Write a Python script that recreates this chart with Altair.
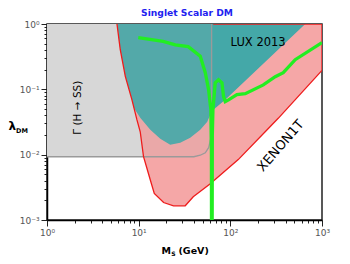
import altair as alt
import pandas as pd

# Gamma(H -> SS) excluded region: lower boundary (M_S [GeV], lambda)
gam_m = [1, 40, 47, 53.3, 58, 61.3, 62.5]
gam_l = [0.0093, 0.0093, 0.0098, 0.0107, 0.0128, 0.018, 0.026]

# XENON1T excluded region: lower boundary
xen_m = [5.8, 6.3, 7.15, 8.45, 9.58, 10.4, 11.3, 12.3, 13.4, 14.8, 18.7, 24, 32.2, 39.4, 60.4, 122, 240, 333, 1000]
xen_l = [1.0, 0.404, 0.158, 0.069, 0.034, 0.0224, 0.0093, 0.0062, 0.0041, 0.00255, 0.00185, 0.00165, 0.00165,
         0.00227, 0.0036, 0.0084, 0.0224, 0.036, 0.195]
xen_top_start = 65  # where the red top edge becomes visible

# LUX 2013 excluded region: lower boundary
lux_m = [5.84, 6.3, 7.15, 8.45, 8.85, 10.4, 13.4, 17.2, 22.1, 28.4, 36.5, 47, 56, 60.4, 65.2, 88, 656]
lux_l = [1.0, 0.404, 0.158, 0.069, 0.0523, 0.0367, 0.024, 0.0175, 0.0142, 0.0152, 0.0181, 0.024, 0.0319,
         0.0408, 0.0488, 0.069, 1.0]

# Relic density curve
relic_m = [9.9, 18.5, 25.1, 34.7, 47, 53.3, 57.9, 61.3, 62.2, 62.4, 63.2, 63.6, 64.6, 68.4, 74.3, 81, 84.3, 88,
           95.6, 118, 145.5, 229, 309, 378, 510, 1000]
relic_l = [0.62, 0.54, 0.48, 0.45, 0.32, 0.18, 0.099, 0.049, 0.01, 0.0001, 0.0001, 0.02, 0.0488, 0.126, 0.140,
           0.126, 0.078, 0.065, 0.069, 0.083, 0.086, 0.117, 0.156, 0.18, 0.284, 0.52]

x_ticks = [k * 10 ** e for e in range(0, 3) for k in range(1, 10)] + [1000]
y_ticks = [round(k * 10.0 ** e, 6) for e in (-3, -2, -1) for k in range(1, 10)] + [1.0]

major_x = "datum.value == 1 || datum.value == 10 || datum.value == 100 || datum.value == 1000"
major_y = "datum.value == 1 || datum.value == 0.1 || datum.value == 0.01 || datum.value == 0.001"

common = dict(grid=False, domainColor="black", domainWidth=1.5, tickColor="#222", tickWidth=1,
              labelColor="#555", labelFont="DejaVu Sans", labelFontSize=9, labelOverlap=False,
              labelFlush=False, title=None)

x_axis = alt.Axis(values=x_ticks,
                  labelExpr="datum.value == 1 ? '10⁰' : datum.value == 10 ? '10¹' : datum.value == 100 ? '10²' : datum.value == 1000 ? '10³' : ''",
                  tickSize={"condition": {"test": major_x, "value": 6}, "value": 3},
                  labelPadding=2, **common)
y_axis = alt.Axis(values=y_ticks,
                  labelExpr="datum.value == 1 ? '10⁰' : datum.value == 0.1 ? '10⁻¹' : datum.value == 0.01 ? '10⁻²' : datum.value == 0.001 ? '10⁻³' : ''",
                  tickSize={"condition": {"test": major_y, "value": 6}, "value": 3},
                  labelPadding=2, **common)

x_scale = alt.Scale(type="log", domain=[1, 1000], nice=False)
y_scale = alt.Scale(type="log", domain=[0.001, 1], nice=False)

X = alt.X("m:Q", scale=x_scale, axis=x_axis)
Y = alt.Y("lam:Q", scale=y_scale, axis=y_axis)

gam_df = pd.DataFrame({"m": gam_m, "lam": gam_l, "top": 1.0})
xen_df = pd.DataFrame({"m": xen_m, "lam": xen_l, "top": 1.0})
lux_df = pd.DataFrame({"m": lux_m, "lam": lux_l, "top": 1.0})

outline_m = [xen_top_start, xen_m[-1]] + xen_m[::-1]
outline_l = [1.0, 1.0] + xen_l[::-1]
out_df = pd.DataFrame({"m": outline_m, "lam": outline_l, "i": range(len(outline_m))})

gout_m = gam_m + [gam_m[-1]]
gout_l = gam_l + [1.0]
gout_df = pd.DataFrame({"m": gout_m, "lam": gout_l, "i": range(len(gout_m))})

relic_df = pd.DataFrame({"m": relic_m, "lam": relic_l, "i": range(len(relic_m))})

gray = alt.Chart(gam_df).mark_area(color="#dfdfdf", orient="vertical").encode(x=X, y=Y, y2=alt.Y2("top:Q"))
pink = alt.Chart(xen_df).mark_area(color="#f5a7a7", orient="vertical").encode(x=X, y=Y, y2=alt.Y2("top:Q"))
teal = alt.Chart(lux_df).mark_area(color="#44a8a8", orient="vertical").encode(x=X, y=Y, y2=alt.Y2("top:Q"))
gray_over = alt.Chart(gam_df).mark_area(color="#b0b0b0", opacity=0.15, orient="vertical").encode(
    x=X, y=Y, y2=alt.Y2("top:Q"))
red_line = alt.Chart(out_df).mark_line(color="#ee1c1c", strokeWidth=1.3, clip=True).encode(
    x=X, y=Y, order="i:Q")
gray_line = alt.Chart(gout_df).mark_line(color="#9a9a9a", strokeWidth=1.3, clip=True).encode(
    x=X, y=Y, order="i:Q")
green = alt.Chart(relic_df).mark_line(color="#22ee22", strokeWidth=3.3, clip=True).encode(
    x=X, y=Y, order="i:Q")

lbl_df = pd.DataFrame({"m": [201, 355, 2.19], "lam": [0.52, 0.0137, 0.0523],
                       "t": ["LUX 2013", "XENON1T", "Γ (H → SS)"]})
lux_txt = alt.Chart(lbl_df.iloc[[0]]).mark_text(font="DejaVu Sans", fontSize=11.5, color="black").encode(
    x=X, y=Y, text="t:N")
xen_txt = alt.Chart(lbl_df.iloc[[1]]).mark_text(font="DejaVu Sans", fontSize=13, color="black", angle=311).encode(
    x=X, y=Y, text="t:N")
gam_txt = alt.Chart(lbl_df.iloc[[2]]).mark_text(font="DejaVu Sans", fontSize=10.5, color="black", angle=270).encode(
    x=X, y=Y, text="t:N")

one = pd.DataFrame({"a": [0]})


def label(text, x, y, size, color="black", align="center", baseline="middle", weight="bold"):
    return alt.Chart(one).mark_text(text=text, font="DejaVu Sans", fontSize=size, fontWeight=weight,
                                    color=color, align=align, baseline=baseline).encode(
        x=alt.value(x), y=alt.value(y))


title = label("Singlet Scalar DM", 140, -15.5, 9.2, color="#1f1ff0", baseline="top")
ylab1 = label("λ", -38.5, 106, 12, align="left", baseline="alphabetic")
ylab2 = label("DM", -31, 108.5, 6.5, align="left", baseline="alphabetic")
xlab1 = label("M", 114.5, 229.5, 9.5, align="left", baseline="alphabetic")
xlab2 = label("S", 124.3, 231.5, 6, align="left", baseline="alphabetic")
xlab3 = label("(GeV)", 131.5, 229.5, 9.5, align="left", baseline="alphabetic")

chart = alt.layer(gray, pink, teal, gray_over, gray_line, red_line, green, lux_txt, xen_txt, gam_txt,
                  title, ylab1, ylab2, xlab1, xlab2, xlab3).properties(
    width=275, height=196,
    autosize=alt.AutoSizeParams(type="none"),
    padding={"left": 39, "top": 16, "right": 20, "bottom": 40},
).configure_view(stroke="#222", strokeWidth=1.5)

chart.save("out.html", embed_options={"renderer": "svg", "actions": False})
